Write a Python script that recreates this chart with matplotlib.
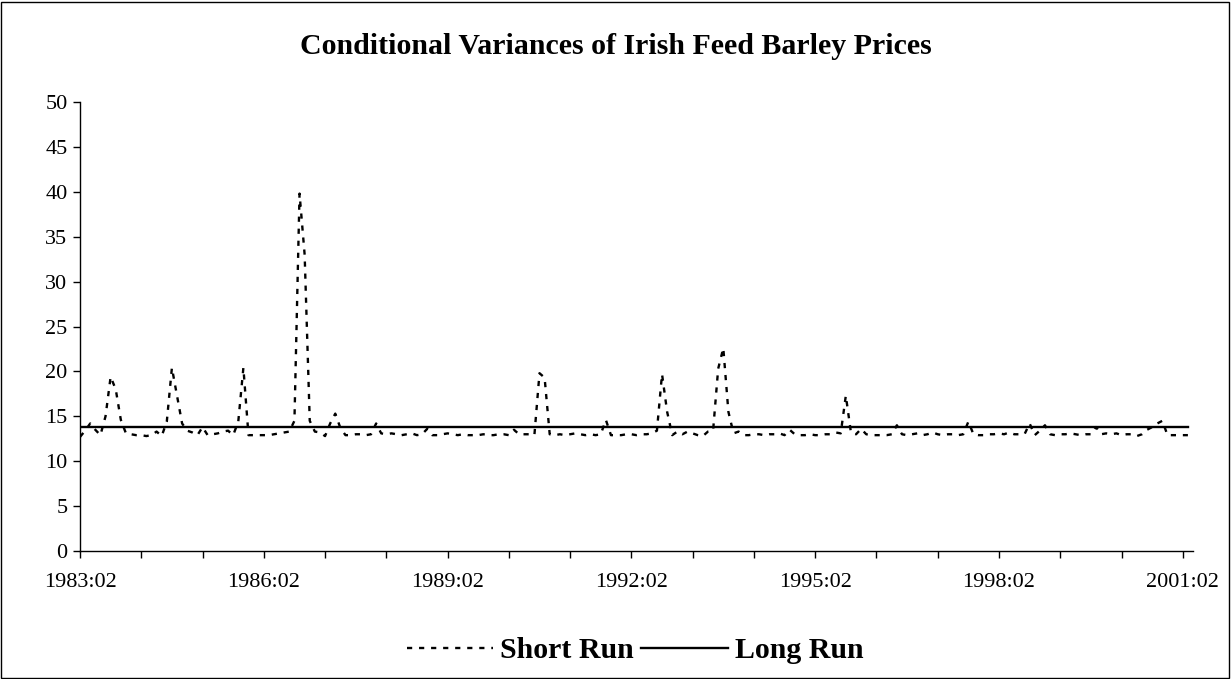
import matplotlib
matplotlib.use("Agg")
import matplotlib.pyplot as plt
from matplotlib.patches import Rectangle

plt.rcParams['font.family'] = ['Liberation Serif', 'DejaVu Serif']

# Monthly observations starting 1983:02
start_year, start_month = 1983, 2
short_run = [
    12.7, 13.4, 14.2, 13.5, 12.9, 15.0, 19.4, 18.0, 14.6, 13.1,   # 0-9
    13.0, 12.9, 12.9, 12.8, 12.9, 13.3, 12.8, 14.4, 20.4, 17.3,   # 10-19
    14.2, 13.4, 13.2, 12.9, 13.8, 12.9, 13.0, 13.1, 13.3, 13.4,   # 20-29
    12.9, 14.4, 20.4, 12.9, 12.9, 12.9, 12.9, 12.9, 13.0, 13.1,   # 30-39
    13.2, 13.3, 14.5, 39.8, 33.0, 14.5, 13.3, 13.2, 12.8, 14.2,   # 40-49
    15.3, 13.7, 12.9, 12.9, 13.0, 13.0, 12.9, 13.0, 14.2, 13.1,   # 50-59
    13.0, 13.1, 13.0, 12.9, 13.0, 13.1, 12.9, 13.0, 13.6, 12.9,   # 60-69
    12.9, 13.0, 13.1, 13.0, 12.9, 13.0, 12.9, 12.9, 12.9, 13.0,   # 70-79
    12.9, 12.9, 13.0, 13.0, 12.9, 13.5, 13.0, 13.0, 13.0, 12.9,   # 80-89
    19.8, 19.3, 13.0, 12.9, 13.0, 12.9, 13.0, 13.1, 13.0, 12.9,   # 90-99
    13.0, 12.9, 13.0, 14.6, 12.9, 12.9, 12.9, 13.0, 13.0, 12.9,   # 100-109
    13.0, 13.0, 13.1, 13.4, 19.7, 15.5, 12.9, 13.3, 13.0, 13.3,   # 110-119
    13.1, 12.9, 12.8, 13.3, 13.4, 20.3, 22.6, 15.5, 13.1, 13.3,   # 120-129
    12.9, 12.9, 13.0, 13.0, 12.9, 13.0, 13.0, 13.1, 12.9, 13.5,   # 130-139
    13.0, 12.9, 12.9, 13.0, 12.9, 12.9, 13.0, 13.0, 13.2, 13.1,   # 140-149
    17.3, 13.2, 13.0, 13.6, 13.0, 12.9, 12.9, 12.9, 12.9, 13.0,   # 150-159
    14.0, 13.0, 12.9, 13.0, 13.1, 12.9, 13.0, 13.2, 13.0, 12.9,   # 160-169
    13.0, 13.0, 12.9, 13.0, 14.4, 13.0, 12.9, 12.9, 13.0, 13.0,   # 170-179
    13.1, 13.0, 13.2, 13.0, 13.0, 13.0, 14.2, 12.9, 13.4, 14.0,   # 180-189
    13.0, 12.9, 13.0, 13.0, 13.1, 13.0, 12.9, 13.0, 13.0, 13.8,   # 190-199
    13.0, 13.1, 13.0, 13.1, 12.9, 13.0, 13.0, 12.8, 13.0, 13.5,   # 200-209
    13.8, 14.2, 14.5, 12.9, 12.9, 12.9, 12.9, 12.9,               # 210-217
]
long_run_level = 13.8
long_run = [long_run_level] * len(short_run)

n = len(short_run)
dates = []
for i in range(n):
    y = start_year + (start_month - 1 + i) // 12
    m = (start_month - 1 + i) % 12 + 1
    dates.append(f"{y}:{m:02d}")

x = list(range(n))

W, H = 1231, 679
fig = plt.figure(figsize=(W / 100, H / 100), dpi=100)
ax = fig.add_axes([80 / W, 1 - 551 / H, (1193 - 80) / W, (551 - 102) / H])

ax.plot(x, short_run, color='black', lw=1.7, linestyle=(0, (2.2, 2.9)),
        label='Short Run')
ax.plot(x, long_run, color='black', lw=1.7, linestyle='-', label='Long Run')

ax.set_xlim(0, n)
ax.set_ylim(0, 50)
ax.set_yticks(range(0, 51, 5))
ax.set_xticks(range(0, n, 12), minor=False)
ax.set_xticklabels([dates[i] if i % 36 == 0 else '' for i in range(0, n, 12)])
ax.tick_params(axis='both', direction='out', length=5, width=1, labelsize=16,
               colors='black')
ax.tick_params(axis='x', pad=11)
ax.tick_params(axis='y', pad=4)
for s in ['top', 'right']:
    ax.spines[s].set_visible(False)
for s in ['left', 'bottom']:
    ax.spines[s].set_linewidth(1)

fig.text(0.5, 1 - 46 / H, 'Conditional Variances of Irish Feed Barley Prices',
         ha='center', va='center', fontsize=21.5, fontweight='bold')

handles, labels = ax.get_legend_handles_labels()
fig.legend(handles, labels, loc='center', bbox_to_anchor=(635 / W, 1 - 651 / H),
           ncol=2, frameon=False, prop={'weight': 'bold', 'size': 21.5},
           handlelength=2.9, handletextpad=0.23, columnspacing=0.25)

fig.patches.append(Rectangle((1 / W, 1 / H), (W - 3) / W, (H - 3) / H,
                             transform=fig.transFigure, fill=False,
                             edgecolor='black', lw=1))

fig.savefig('out.png', dpi=100)
